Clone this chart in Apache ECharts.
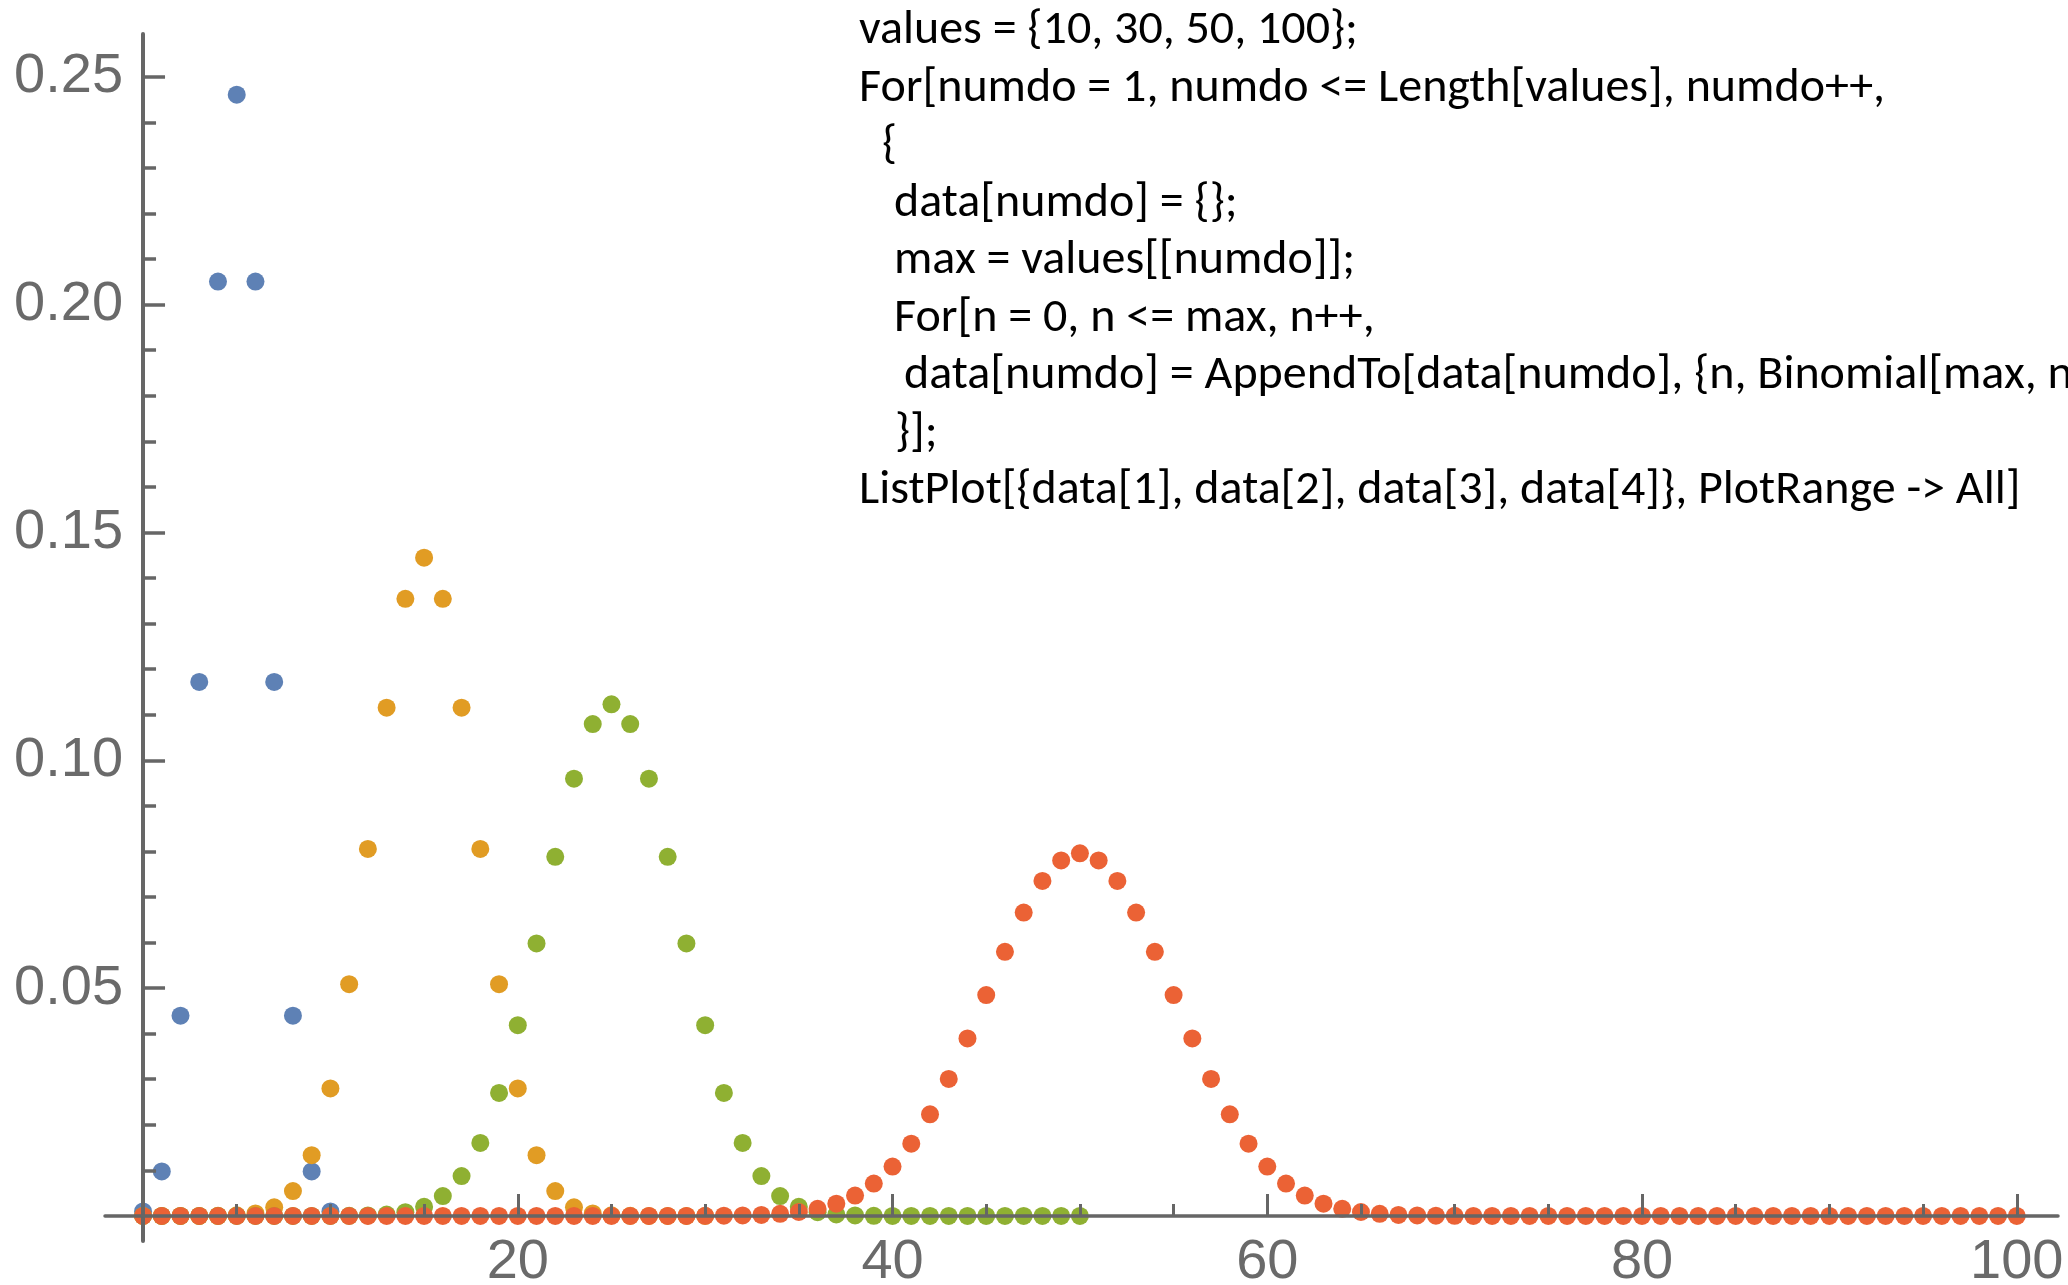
<!DOCTYPE html>
<html><head><meta charset="utf-8">
<script src="https://cdn.jsdelivr.net/npm/echarts@6/dist/echarts.min.js"></script>
<style>html,body{margin:0;padding:0;background:#fff}#c{width:2068px;height:1285px}</style>
</head><body><div id="c"></div>
<script>
// ---------- data ----------
const xTickLabels = [20, 40, 60, 80, 100];
const xMinorTicks = [5, 10, 15, 25, 30, 35, 45, 50, 55, 65, 70, 75, 85, 90, 95];
const yTickLabels = [0.05, 0.10, 0.15, 0.20, 0.25];
const yMinorTicks = [0.01, 0.02, 0.03, 0.04, 0.06, 0.07, 0.08, 0.09, 0.11, 0.12, 0.13, 0.14,
                     0.16, 0.17, 0.18, 0.19, 0.21, 0.22, 0.23, 0.24];
const seriesNames = ['data[1]', 'data[2]', 'data[3]', 'data[4]'];

const b10 = [0.000977, 0.009766, 0.043945, 0.117188, 0.205078, 0.246094, 0.205078, 0.117188, 0.043945, 0.009766, 0.000977];

const b30 = [0, 0.00000003, 0.0000004, 0.0000038, 0.0000255, 0.000133, 0.000553, 0.001896, 0.005451, 0.013325,
  0.027982, 0.050876, 0.080553, 0.111535, 0.135435, 0.144464, 0.135435, 0.111535, 0.080553, 0.050876,
  0.027982, 0.013325, 0.005451, 0.001896, 0.000553, 0.000133, 0.0000255, 0.0000038, 0.0000004, 0.00000003, 0];

const b50 = [0, 0, 0, 0, 0, 0, 0, 0, 0.0000005, 0.0000022,
  0.0000091, 0.0000332, 0.000108, 0.000315, 0.000833, 0.001999, 0.004373, 0.008746, 0.016035, 0.027006,
  0.041860, 0.059800, 0.078826, 0.095962, 0.107957, 0.112275, 0.107957, 0.095962, 0.078826, 0.059800,
  0.041860, 0.027006, 0.016035, 0.008746, 0.004373, 0.001999, 0.000833, 0.000315, 0.000108, 0.0000332,
  0.0000091, 0.0000022, 0.0000005, 0, 0, 0, 0, 0, 0, 0, 0];

const b100 = [0, 0, 0, 0, 0, 0, 0, 0, 0, 0,
  0, 0, 0, 0, 0, 0, 0, 0, 0, 0,
  0, 0, 0, 0, 0, 0.0000002, 0.0000006, 0.0000015, 0.0000039, 0.0000098,
  0.000023, 0.000052, 0.000113, 0.000232, 0.000458, 0.000864, 0.001560, 0.002698, 0.004473, 0.007111,
  0.010844, 0.015869, 0.022292, 0.030069, 0.038953, 0.048474, 0.057958, 0.066590, 0.073527, 0.078029,
  0.079589,
  0.078029, 0.073527, 0.066590, 0.057958, 0.048474, 0.038953, 0.030069, 0.022292, 0.015869, 0.010844,
  0.007111, 0.004473, 0.002698, 0.001560, 0.000864, 0.000458, 0.000232, 0.000113, 0.000052, 0.000023,
  0.0000098, 0.0000039, 0.0000015, 0.0000006, 0.0000002, 0, 0, 0, 0, 0,
  0, 0, 0, 0, 0, 0, 0, 0, 0, 0,
  0, 0, 0, 0, 0, 0, 0, 0, 0, 0];

const codeLines = [
  'values = {10, 30, 50, 100};',
  'For[numdo = 1, numdo <= Length[values], numdo++,',
  '{',
  'data[numdo] = {};',
  'max = values[[numdo]];',
  'For[n = 0, n <= max, n++,',
  'data[numdo] = AppendTo[data[numdo], {n, Binomial[max, n',
  '}];',
  'ListPlot[{data[1], data[2], data[3], data[4]}, PlotRange -> All]'
];

// ---------- layout / style ----------
const W = 2068, H = 1285;
const G = {left: 105, top: 34, width: 1953, height: 1207};
const X_MIN = -2.03, X_MAX = 102.2;
const Y_MIN = -0.0055, Y_MAX = 0.2594;
const xZeroOff = G.height * (0 - Y_MIN) / (Y_MAX - Y_MIN);
const yZeroOff = G.width * (0 - X_MIN) / (X_MAX - X_MIN);
const colors = ['#5E81B5', '#E19C24', '#8FB032', '#EB6235'];
const axisColor = '#666666';
const labelFont = {fontFamily: '"Liberation Sans", Arial, sans-serif', fontSize: 56, color: '#6a6a6a'};
const codeFont = '48px Carlito, "Liberation Sans Narrow", "DejaVu Sans Condensed", sans-serif';
const codeX = 859, codeY0 = 31, codeDy = 57.5;
const codeIndent = [0, 0, 23, 35, 35, 35, 45, 36, 0];

const chart = echarts.init(document.getElementById('c'), null, {renderer: 'canvas', width: W, height: H});

function xAx(opts) {
  return Object.assign({
    type: 'value', min: X_MIN, max: X_MAX, gridIndex: 0, position: 'bottom',
    offset: -xZeroOff, z: 10, splitLine: {show: false},
    axisLine: {show: false, onZero: false},
    axisTick: {show: false}, axisLabel: {show: false}
  }, opts);
}
function yAx(opts) {
  return Object.assign({
    type: 'value', min: Y_MIN, max: Y_MAX, gridIndex: 0, position: 'left',
    offset: -yZeroOff, z: 10, splitLine: {show: false},
    axisLine: {show: false, onZero: false},
    axisTick: {show: false}, axisLabel: {show: false}
  }, opts);
}

const option = {
  animation: false,
  backgroundColor: '#ffffff',
  grid: Object.assign({containLabel: false, outerBoundsMode: 'none'}, G),
  xAxis: [
    xAx({
      axisLine: {show: true, onZero: false, lineStyle: {color: axisColor, width: 3.5}},
      axisTick: {show: true, inside: true, length: 22, customValues: xTickLabels, lineStyle: {color: axisColor, width: 3}},
      axisLabel: Object.assign({show: true, customValues: xTickLabels, margin: 19}, labelFont)
    }),
    xAx({
      axisTick: {show: true, inside: true, length: 12, customValues: xMinorTicks, lineStyle: {color: axisColor, width: 3}}
    })
  ],
  yAxis: [
    yAx({
      axisLine: {show: true, onZero: false, lineStyle: {color: axisColor, width: 4}},
      axisTick: {show: true, inside: true, length: 22, customValues: yTickLabels, lineStyle: {color: axisColor, width: 3.5}},
      axisLabel: Object.assign({show: true, customValues: yTickLabels, margin: 20,
        formatter: v => v.toFixed(2)}, labelFont)
    }),
    yAx({
      axisTick: {show: true, inside: true, length: 13, customValues: yMinorTicks, lineStyle: {color: axisColor, width: 3.5}}
    })
  ],
  series: [b10, b30, b50, b100].map((arr, i) => ({
    type: 'scatter', name: seriesNames[i], xAxisIndex: 0, yAxisIndex: 0,
    symbol: 'circle', symbolSize: 18, clip: false, z: 2,
    itemStyle: {color: colors[i], opacity: 1},
    data: arr.map((v, k) => [k, v])
  })),
  graphic: codeLines.map((t, i) => ({
    type: 'text', x: codeX + codeIndent[i], y: codeY0 + i * codeDy, z: 20,
    style: {text: t, font: codeFont, fill: '#000000', verticalAlign: 'middle', align: 'left'}
  }))
};
chart.setOption(option);
</script></body></html>
